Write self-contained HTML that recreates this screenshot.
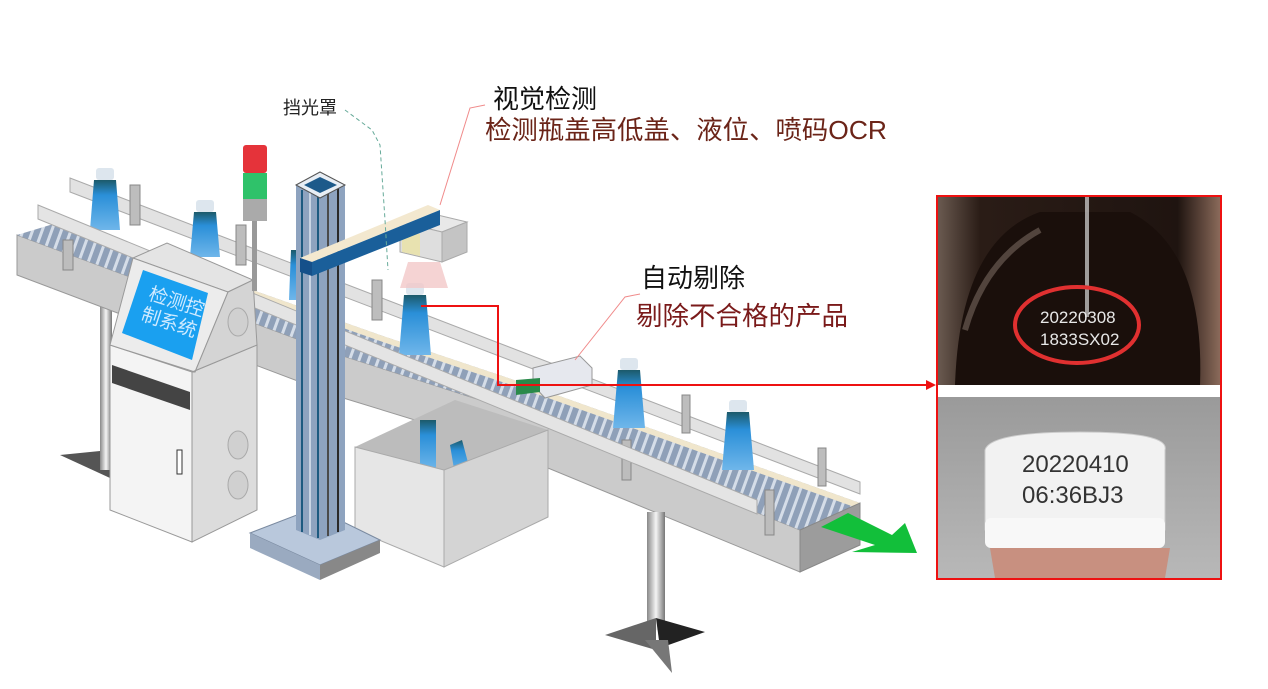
<!DOCTYPE html>
<html><head><meta charset="utf-8">
<style>
html,body{margin:0;padding:0;background:#fff;}
svg{display:block;}
text{font-family:"Liberation Sans","Noto Sans CJK SC",sans-serif;}
</style></head>
<body>
<svg width="1268" height="689" viewBox="0 0 1268 689" xmlns="http://www.w3.org/2000/svg">
<defs>
<pattern id="belt" width="9" height="9" patternUnits="userSpaceOnUse" patternTransform="rotate(20)">
<rect width="9" height="9" fill="#8fa0b8"/>
<rect x="0" y="0" width="3" height="9" fill="#d5dde8"/>
</pattern>
<linearGradient id="leg" x1="0" x2="1"><stop offset="0" stop-color="#888"/><stop offset=".5" stop-color="#f4f4f4"/><stop offset="1" stop-color="#777"/></linearGradient>
<linearGradient id="bot" x1="0" x2="0" y1="0" y2="1"><stop offset="0" stop-color="#1c5a6a"/><stop offset=".3" stop-color="#2a8fd8"/><stop offset="1" stop-color="#6fb6ea"/></linearGradient>
<linearGradient id="photo1" x1="0" x2="1"><stop offset="0" stop-color="#6a5a50"/><stop offset=".15" stop-color="#2a1c16"/><stop offset=".85" stop-color="#1f1410"/><stop offset="1" stop-color="#8a6a5a"/></linearGradient>
<linearGradient id="photo2" x1="0" x2="0" y1="0" y2="1"><stop offset="0" stop-color="#9a9a9a"/><stop offset="1" stop-color="#b8b8b8"/></linearGradient>
</defs>

<polygon points="60,455 110,450 110,478" fill="#555"/>
<rect x="100" y="300" width="12" height="170" fill="url(#leg)"/>

<polygon points="70,178 860,482 860,494 70,192" fill="#e2e2e2" stroke="#aaa" stroke-width="1"/>

<polygon points="17,235 340,355 480,400 800,530 800,572 480,440 340,397 17,275" fill="#cbcbcb" stroke="#999" stroke-width="1"/>
<polygon points="17,235 60,222 380,335 520,382 860,503 800,530 480,400 340,355" fill="url(#belt)"/>
<polygon points="60,222 380,335 520,382 860,503 860,509 520,388 380,341 60,228" fill="#f0e6cc"/>
<polygon points="800,530 860,503 860,545 800,572" fill="#9c9c9c" stroke="#888" stroke-width="1"/>

<g>
<rect x="96" y="168" width="18" height="12" rx="3" fill="#dde6ee"/>
<path d="M94,180 h22 l4,50 h-30 z" fill="url(#bot)"/>
<rect x="196" y="200" width="18" height="12" rx="3" fill="#dde6ee"/>
<path d="M194,212 h22 l4,45 h-30 z" fill="url(#bot)"/>
<rect x="406" y="283" width="18" height="12" rx="3" fill="#dde6ee"/>
<path d="M404,295 h22 l5,60 h-32 z" fill="url(#bot)"/>
<rect x="620" y="358" width="18" height="12" rx="3" fill="#dde6ee"/>
<path d="M618,370 h22 l5,58 h-32 z" fill="url(#bot)"/>
<rect x="729" y="400" width="18" height="12" rx="3" fill="#dde6ee"/>
<path d="M727,412 h22 l5,58 h-32 z" fill="url(#bot)"/>
<path d="M291,250 h12 l4,50 h-18 z" fill="url(#bot)"/>
</g>

<g fill="#bdbdbd" stroke="#888" stroke-width="1">
<rect x="63" y="240" width="10" height="30"/>
<rect x="130" y="185" width="10" height="40"/>
<rect x="236" y="225" width="10" height="40"/>
<rect x="372" y="280" width="10" height="40"/>
<rect x="682" y="395" width="8" height="38"/>
<rect x="818" y="448" width="8" height="38"/>
<rect x="622" y="440" width="9" height="40"/>
<rect x="765" y="490" width="9" height="45"/>
</g>

<polygon points="38,205 757,500 757,514 38,219" fill="#e4e4e4" stroke="#aaa" stroke-width="1"/>

<polygon points="533,368 580,356 592,368 592,385 545,398 533,385" fill="#e6e8ee" stroke="#999" stroke-width="1"/>
<polygon points="516,380 540,378 540,392 516,395" fill="#2a8a4a"/>

<rect x="647" y="512" width="18" height="118" fill="url(#leg)"/>
<polygon points="605,635 656,618 656,650" fill="#666"/>
<polygon points="656,618 705,632 660,648" fill="#222"/>
<polygon points="645,640 668,640 672,673" fill="#777"/>

<polygon points="355,447 455,400 548,430 444,470" fill="#bcbcbc"/>
<rect x="420" y="420" width="16" height="50" fill="url(#bot)"/>
<polygon points="450,445 462,440 470,470 455,475" fill="url(#bot)"/>
<polygon points="355,447 444,470 444,567 355,530" fill="#e6e6e6" stroke="#aaa" stroke-width="1"/>
<polygon points="444,470 548,430 548,517 444,567" fill="#d4d4d4" stroke="#aaa" stroke-width="1"/>

<polygon points="250,533 315,508 380,540 320,565" fill="#b9c8dc" stroke="#7a8aa0" stroke-width="1"/>
<polygon points="250,533 320,565 320,580 250,548" fill="#9aaac0"/>
<polygon points="320,565 380,540 380,553 320,580" fill="#888"/>
<polygon points="296,185 320,175 345,185 345,530 320,540 296,530" fill="#8ea3bf"/>
<g stroke-width="2">
<line x1="302" y1="190" x2="302" y2="532" stroke="#1d5a80"/>
<line x1="310" y1="190" x2="310" y2="535" stroke="#c9d5e4"/>
<line x1="318" y1="190" x2="318" y2="538" stroke="#1d5a80"/>
<line x1="328" y1="186" x2="328" y2="536" stroke="#4a4a4a"/>
<line x1="338" y1="186" x2="338" y2="532" stroke="#2a2a2a"/>
</g>
<polygon points="296,185 320,172 345,185 320,198" fill="#e8eef5" stroke="#555" stroke-width="1"/>
<polygon points="304,185 320,177 337,185 320,193" fill="#1d5a8a"/>

<!-- camera -->
<polygon points="400,222 425,212 467,222 442,232" fill="#e8e8e8" stroke="#aaa" stroke-width="1"/>
<polygon points="400,222 442,232 442,262 400,252" fill="#dedede" stroke="#aaa" stroke-width="1"/>
<polygon points="442,232 467,222 467,252 442,262" fill="#c4c4c4" stroke="#aaa" stroke-width="1"/>
<polygon points="402,230 420,234 420,256 402,252" fill="#e8e2b0"/>
<polygon points="408,262 440,262 448,288 400,288" fill="#f3c8c8" opacity=".8"/>
<polygon points="300,258 428,205 440,210 312,262" fill="#f3e8cf"/>
<polygon points="300,258 312,262 312,276 300,272" fill="#15508a"/>
<polygon points="312,262 440,210 440,225 312,276" fill="#1a5f9a"/>
<polyline points="345,110 372,130 380,145 385,220 388,270" fill="none" stroke="#6a9" stroke-width="1" stroke-dasharray="4,3"/>

<polygon points="110,345 192,372 192,542 110,510" fill="#f4f4f4" stroke="#999" stroke-width="1"/>
<polygon points="112,365 190,392 190,410 112,383" fill="#444"/>
<polygon points="192,372 257,345 257,510 192,542" fill="#dcdcdc" stroke="#999" stroke-width="1"/>
<polygon points="133,258 167,243 253,280 228,292" fill="#e4e4e4" stroke="#999" stroke-width="1"/>
<polygon points="110,345 133,258 228,292 195,372" fill="#ececec" stroke="#999" stroke-width="1"/>
<polygon points="228,292 253,280 257,345 192,372 195,372" fill="#d4d4d4" stroke="#999" stroke-width="1"/>
<polygon points="143,270 208,293 192,360 122,333" fill="#1aa0f0"/>
<text x="145" y="305" font-size="19" fill="#cfeaff" transform="rotate(18 165 310)">检测控</text>
<text x="138" y="328" font-size="19" fill="#cfeaff" transform="rotate(18 165 330)">制系统</text>
<ellipse cx="238" cy="322" rx="10" ry="14" fill="#d0d0d0" stroke="#aaa"/>
<ellipse cx="238" cy="445" rx="10" ry="14" fill="#d0d0d0" stroke="#aaa"/>
<ellipse cx="238" cy="485" rx="10" ry="14" fill="#d0d0d0" stroke="#aaa"/>
<rect x="177" y="450" width="5" height="24" fill="#fff" stroke="#333"/>
<rect x="243" y="145" width="24" height="28" rx="3" fill="#e5333a"/>
<rect x="243" y="173" width="24" height="26" fill="#2fc26a"/>
<rect x="243" y="199" width="24" height="22" fill="#aaa"/>
<rect x="252" y="221" width="5" height="70" fill="#999"/>

<polygon points="821,527 848,513 892,535 905,523 917,553 852,552 875,545" fill="#12bf3a"/>

<polyline points="485,105 470,108 440,205" fill="none" stroke="#f08a8a" stroke-width="1"/>
<polyline points="640,294 625,297 575,360" fill="none" stroke="#f08a8a" stroke-width="1"/>

<polyline points="421,306 498,306 498,385 930,385" fill="none" stroke="#ee1111" stroke-width="2"/>
<polygon points="936,385 926,380 926,390" fill="#ee1111"/>

<text x="283" y="114" font-size="18" fill="#222">挡光罩</text>
<text x="493" y="108" font-size="26" fill="#111">视觉检测</text>
<text x="485" y="139" font-size="26" fill="#6b2418" textLength="402" lengthAdjust="spacingAndGlyphs">检测瓶盖高低盖、液位、喷码OCR</text>
<text x="641" y="287" font-size="26" fill="#111">自动剔除</text>
<text x="636" y="325" font-size="26" fill="#7a1a1a" textLength="212" lengthAdjust="spacingAndGlyphs">剔除不合格的产品</text>

<rect x="938" y="197" width="282" height="188" fill="url(#photo1)"/>
<path d="M955,385 Q960,240 1040,212 L1130,212 Q1205,250 1200,385 Z" fill="#1a0f0b"/>
<path d="M965,330 Q985,260 1040,230" fill="none" stroke="#8a7a70" stroke-width="6" opacity=".5"/>
<rect x="1085" y="197" width="4" height="120" fill="#d8d8d8" opacity=".7"/>
<ellipse cx="1077" cy="325" rx="62" ry="38" fill="none" stroke="#e03030" stroke-width="4"/>
<text x="1040" y="323" font-size="17" fill="#e8e8e8" font-family="Liberation Mono,monospace">20220308</text>
<text x="1040" y="345" font-size="17" fill="#e8e8e8" font-family="Liberation Mono,monospace">1833SX02</text>
<rect x="938" y="385" width="282" height="12" fill="#fff"/>
<rect x="938" y="397" width="282" height="181" fill="url(#photo2)"/>
<path d="M990,548 L1170,548 L1165,578 L995,578 Z" fill="#c89080"/>
<path d="M985,450 Q990,432 1080,432 Q1170,432 1165,450 L1165,530 Q1080,545 985,530 Z" fill="#f2f2f2" stroke="#ccc"/>
<rect x="985" y="518" width="180" height="30" rx="6" fill="#f8f8f8"/>
<text x="1022" y="472" font-size="24" fill="#333" font-family="Liberation Mono,monospace">20220410</text>
<text x="1022" y="503" font-size="24" fill="#333" font-family="Liberation Mono,monospace">06:36BJ3</text>
<rect x="937" y="196" width="284" height="383" fill="none" stroke="#ee1111" stroke-width="2"/>
</svg>
</body></html>
